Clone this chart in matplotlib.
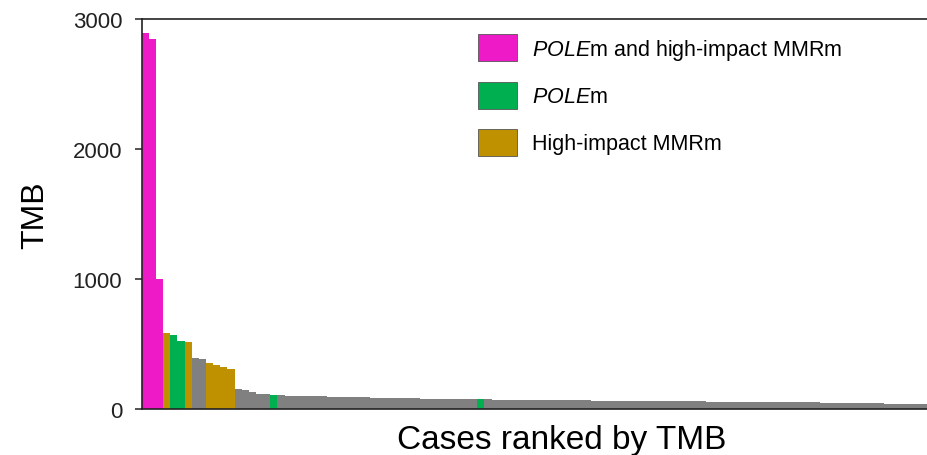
import numpy as np
import matplotlib

matplotlib.use("Agg")
import matplotlib.pyplot as plt  # noqa: E402
from matplotlib.patches import Patch  # noqa: E402

plt.rcParams["font.family"] = ["Liberation Sans", "DejaVu Sans"]
plt.rcParams["mathtext.fontset"] = "custom"
plt.rcParams["mathtext.rm"] = "Liberation Sans"
plt.rcParams["mathtext.it"] = "Liberation Sans:italic"

# TMB per case, sorted high to low
tmb = [
    2890, 2850, 1000, 590, 570, 527, 520, 392, 388, 360,
    343, 325, 312, 156, 148, 136, 121, 116, 111, 108,
    106, 104, 103, 102, 101, 100, 99, 98, 97, 96,
    95, 93, 92, 90, 89, 88, 87, 86, 85, 84,
    83, 82, 81, 80, 79, 79, 78, 77, 77, 76,
    76, 75, 75, 74, 74, 73, 73, 72, 72, 71,
    71, 70, 70, 69, 69, 68, 68, 67, 67, 66,
    66, 65, 65, 64, 64, 63, 63, 62, 62, 61,
    61, 60, 60, 59, 59, 58, 58, 57, 57, 56,
    56, 55, 55, 54, 54, 53, 53, 52, 52, 51,
    50, 49, 48, 47, 46, 45, 44, 43, 42, 41,
]

# case ranks carrying each alteration class
pole_and_mmr_cases = [0, 1, 2]
pole_cases = [4, 5, 18, 47]
mmr_cases = [3, 6, 9, 10, 11, 12]

category_labels = [
    r"$\it{POLE}$m and high-impact MMRm",
    r"$\it{POLE}$m",
    "High-impact MMRm",
]
category_colors = ["#EF1AC7", "#00B050", "#BF9000"]
other_color = "#808080"

colors = [other_color] * len(tmb)
for cases, color in zip([pole_and_mmr_cases, pole_cases, mmr_cases], category_colors):
    for i in cases:
        colors[i] = color

fig = plt.figure(figsize=(9.27, 4.56), dpi=100)
ax = fig.add_axes([0.1529, 0.0998, 0.8471, 0.8563])

x = np.arange(len(tmb))
ax.bar(x, tmb, width=1.0, color=colors, linewidth=0)

ax.set_xlim(-0.5, len(tmb) - 0.5)
ax.set_ylim(0, 3000)
ax.set_yticks([0, 1000, 2000, 3000])
ax.set_xticks([])
ax.tick_params(axis="y", direction="out", length=5, width=1.1, pad=9, labelsize=16, colors="#222222")

for side in ["left", "top", "bottom"]:
    ax.spines[side].set_linewidth(1.2)
    ax.spines[side].set_color("#222222")
ax.spines["right"].set_visible(False)

ax.set_ylabel("TMB", fontsize=23, labelpad=16)
ax.set_xlabel("Cases ranked by TMB", fontsize=24)
ax.xaxis.set_label_coords(0.535, -0.038, transform=ax.transAxes)
ax.xaxis.label.set_va("top")

handles = [Patch(facecolor=c, edgecolor="#555555", linewidth=0.6) for c in category_colors]
ax.legend(
    handles,
    category_labels,
    loc="upper left",
    bbox_to_anchor=(0.428, 0.961),
    frameon=False,
    fontsize=15.5,
    handlelength=1.81,
    handleheight=1.55,
    handletextpad=0.7,
    labelspacing=0.93,
    borderpad=0,
    borderaxespad=0,
)

fig.savefig("out.png", dpi=100)
